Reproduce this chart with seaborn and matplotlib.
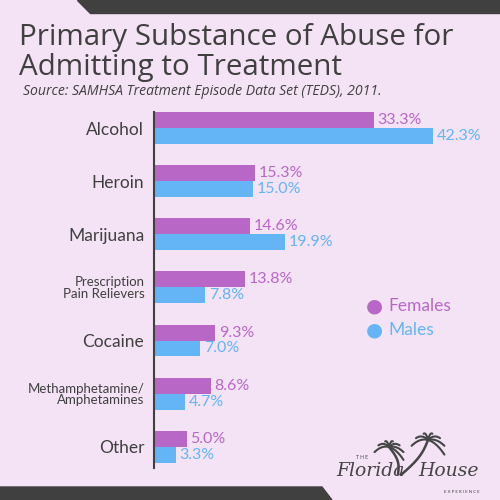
import matplotlib
matplotlib.use("Agg")
import matplotlib.pyplot as plt
import matplotlib.patches as mpatches
from matplotlib.lines import Line2D
import numpy as np
import pandas as pd
import seaborn as sns

# data
substances = ["Alcohol", "Heroin", "Marijuana", "Prescription\nPain Relievers",
              "Cocaine", "Methamphetamine/\nAmphetamines", "Other"]
females = [33.3, 15.3, 14.6, 13.8, 9.3, 8.6, 5.0]
males = [42.3, 15.0, 19.9, 7.8, 7.0, 4.7, 3.3]
groups = ["Females", "Males"]

BG = "#F3E3F4"
DARK = "#404040"
PURPLE = "#B967C7"
BLUE = "#63B5F5"

df = pd.DataFrame({
    "substance": substances * 2,
    "pct": females + males,
    "sex": ["Females"] * len(substances) + ["Males"] * len(substances),
})

sns.set_style("white")
plt.rcParams["font.family"] = ["Lato", "DejaVu Sans"]

fig = plt.figure(figsize=(5, 5), dpi=100)
fig.patch.set_facecolor(BG)


def px(x, y):
    # pixel coords (top-left origin) -> figure fraction
    return x / 500, 1 - y / 500


# axes: left edge at the vertical axis line
ax = fig.add_axes([154 / 500, 1 - 468 / 500, 336 / 500, 356 / 500])
ax.set_facecolor(BG)

sns.barplot(data=df, y="substance", x="pct", hue="sex", orient="h",
            order=substances, hue_order=groups, palette=[PURPLE, BLUE],
            width=0.6, saturation=1, linewidth=0, legend=False, ax=ax)

for cont, col in zip(ax.containers, [PURPLE, BLUE]):
    ax.bar_label(cont, labels=[f"{v:.1f}%" for v in cont.datavalues],
                 padding=2.5, color=col, fontsize=11.5)

ax.set_xlim(0, 50.9)
ax.set_ylim(6.40, -0.302)
ax.set_xlabel("")
ax.set_ylabel("")
ax.set_xticks([])
for s in ["top", "right", "bottom"]:
    ax.spines[s].set_visible(False)
ax.spines["left"].set_color(DARK)
ax.spines["left"].set_linewidth(1.5)
ax.tick_params(axis="y", length=0, pad=7)
for lab in ax.get_yticklabels():
    lab.set_color(DARK)
    lab.set_fontsize(9.5 if "\n" in lab.get_text() else 12.5)
    lab.set_linespacing(0.95)

# legend as coloured dots with coloured text
for i, (name, col) in enumerate(zip(groups, [PURPLE, BLUE])):
    x, y = px(374, 306 + 24 * i)
    fig.text(x, y, "\u25cf", color=col, fontsize=14,
             ha="center", va="center", family="DejaVu Sans")
    fig.text(px(388, 0)[0], y, name, color=col, fontsize=12.5, va="center")

# title and source
fig.text(*px(19, 45), "Primary Substance of Abuse for",
         fontsize=21.3, color=DARK, va="baseline", family="Open Sans")
fig.text(*px(19, 75), "Admitting to Treatment",
         fontsize=21.3, color=DARK, va="baseline", family="Open Sans")
fig.text(*px(23, 95), "Source: SAMHSA Treatment Episode Data Set (TEDS), 2011.",
         fontsize=10.1, color=DARK, style="italic", va="baseline", family="Open Sans")

# dark bands top and bottom
fig.patches.append(mpatches.Polygon([px(77, 0), px(500, 0), px(500, 13), px(90, 13)],
                                    closed=True, color=DARK, transform=fig.transFigure, zorder=0))
fig.patches.append(mpatches.Polygon([px(0, 500), px(332, 500), px(322, 487), px(0, 487)],
                                    closed=True, color=DARK, transform=fig.transFigure, zorder=0))

# logo: two simple palms + text
LOGO = "#454545"


def palm(x0, y0, x1, y1, size):
    t = np.linspace(0, 1, 20)
    xs = x0 + (x1 - x0) * t + 4 * np.sin(np.pi * t)
    ys = y0 + (y1 - y0) * t
    fig.lines.append(Line2D(*zip(*[px(a, b) for a, b in zip(xs, ys)]),
                            transform=fig.transFigure, color=LOGO, lw=1.8))
    for ang in [-165, -135, -105, -75, -45, -15, 15]:
        a = np.radians(ang)
        fx = x1 + size * np.cos(a) * t
        fy = y1 + size * np.sin(a) * t + 0.6 * size * t ** 2
        fig.lines.append(Line2D(*zip(*[px(a_, b_) for a_, b_ in zip(fx, fy)]),
                                transform=fig.transFigure, color=LOGO, lw=1.5))


palm(398, 474, 389, 447, 15)
palm(402, 474, 428, 440, 17)

fig.text(*px(336, 476), "Florida", fontsize=13.5, color=LOGO,
         style="italic", va="baseline", family="DejaVu Serif")
fig.text(*px(418, 476), "House", fontsize=13.5, color=LOGO,
         style="italic", va="baseline", family="DejaVu Serif")
fig.text(*px(362, 459), "T H E", fontsize=3.5, color=LOGO, ha="center", va="baseline")
fig.text(*px(462, 493), "E X P E R I E N C E", fontsize=3.2, color=LOGO, ha="center", va="baseline")

fig.savefig("out.png", dpi=100, facecolor=BG)
